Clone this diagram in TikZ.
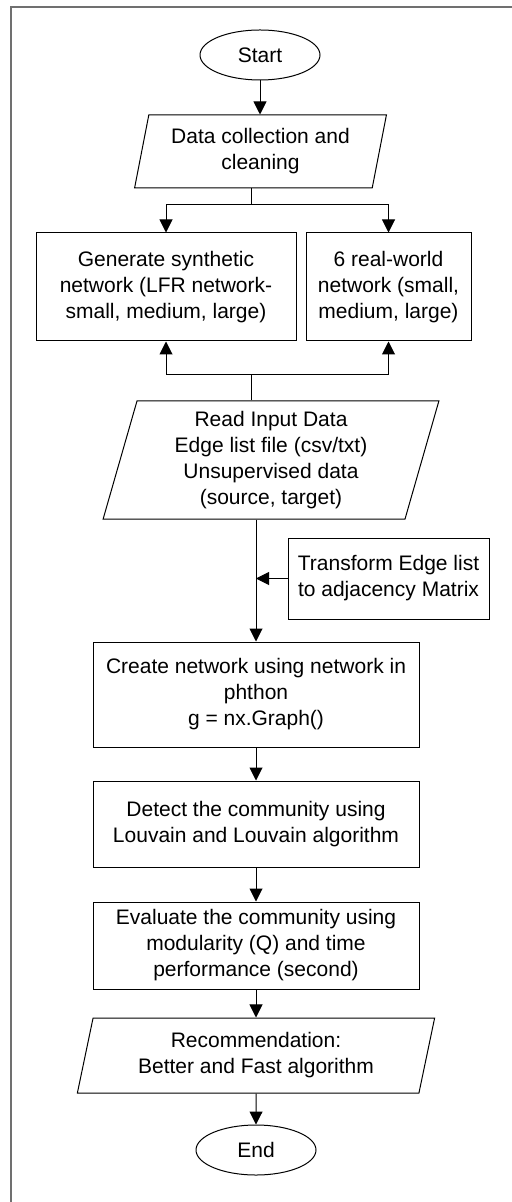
\documentclass[tikz,border=0pt]{standalone}
\usepackage{fontspec}
\setmainfont{Liberation Sans}
\usetikzlibrary{shapes.geometric, arrows.meta}

\begin{document}
\begin{tikzpicture}[x=0.5pt, y=-0.5pt, line width=0.5pt,
    terminal/.style={ellipse, draw, minimum width=60pt, minimum height=25pt, inner sep=0pt},
    io/.style={trapezium, trapezium left angle=76, trapezium right angle=104,
               trapezium stretches=true, draw, align=center, inner sep=0pt},
    process/.style={rectangle, draw, align=center, inner sep=0pt},
    >={Triangle[length=6.5pt, width=6.5pt]}]
\fontsize{10.5}{13}\selectfont
        \useasboundingbox (0, 0) rectangle (512, 1202);
        % Draw the frame
        \draw[line width=1pt, color={rgb,255:red,112;green,112;blue,112}]
            (11, 1202) -- (11, 7.5) -- (512, 7.5);
        % Draw the steps
        \node[terminal] at (260, 55)      (start) {Start};
        \node[io, minimum width=126.5pt, minimum height=36.5pt]
            at (260.5, 151.5) (data) {Data collection and\\cleaning};
        \node[process, minimum width=130pt, minimum height=54pt]
            at (166, 287)     (synth) {Generate synthetic\\network (LFR network-\\small, medium, large)};
        \node[process, minimum width=82.5pt, minimum height=54pt]
            at (388.5, 287)   (real) {6 real-world\\network (small,\\medium, large)};
        \node[io, minimum width=168pt, minimum height=59pt]
            at (271, 460)     (read) {Read Input Data\\Edge list file (csv/txt)\\Unsupervised data\\(source, target)};
        \node[process, minimum width=100.5pt, minimum height=40.5pt]
            at (388.5, 578.5) (adj) {Transform Edge list\\to adjacency Matrix};
        \node[process, minimum width=163pt, minimum height=52.5pt]
            at (256, 694.5)   (create) {Create network using network in\\phthon\\g = nx.Graph()};
        \node[process, minimum width=163pt, minimum height=43pt]
            at (256, 824)     (detect) {Detect the community using\\Louvain and Louvain algorithm};
        \node[process, minimum width=163pt, minimum height=43.5pt]
            at (256, 945.5)   (eval) {Evaluate the community using\\modularity (Q) and time\\performance (second)};
        \node[io, minimum width=179pt, minimum height=37.5pt]
            at (256, 1055.5)  (rec) {Recommendation:\\Better and Fast algorithm};
        \node[terminal] at (256, 1150)    (end) {End};
        \coordinate (split) at (251, 205);
        \coordinate (join)  at (251, 375);
        % Connect the steps with arrows
        \draw[->] (start) -- (start |- data.north);
        \draw (data.south -| split) -- (split);
        \draw[->] (split) -| (synth.north);
        \draw[->] (split) -| (real.north);
        \draw (read.north -| join) -- (join);
        \draw[->] (join) -| (synth.south);
        \draw[->] (join) -| (real.south);
        \draw[->] (read.south -| create.north) -- (create.north);
        \draw[->] (adj.west) -- (adj.west -| create.north);
        \draw[->] (create) -- (detect);
        \draw[->] (detect) -- (eval);
        \draw[->] (eval) -- (rec);
        \draw[->] (rec) -- (end);
\end{tikzpicture}
\end{document}
